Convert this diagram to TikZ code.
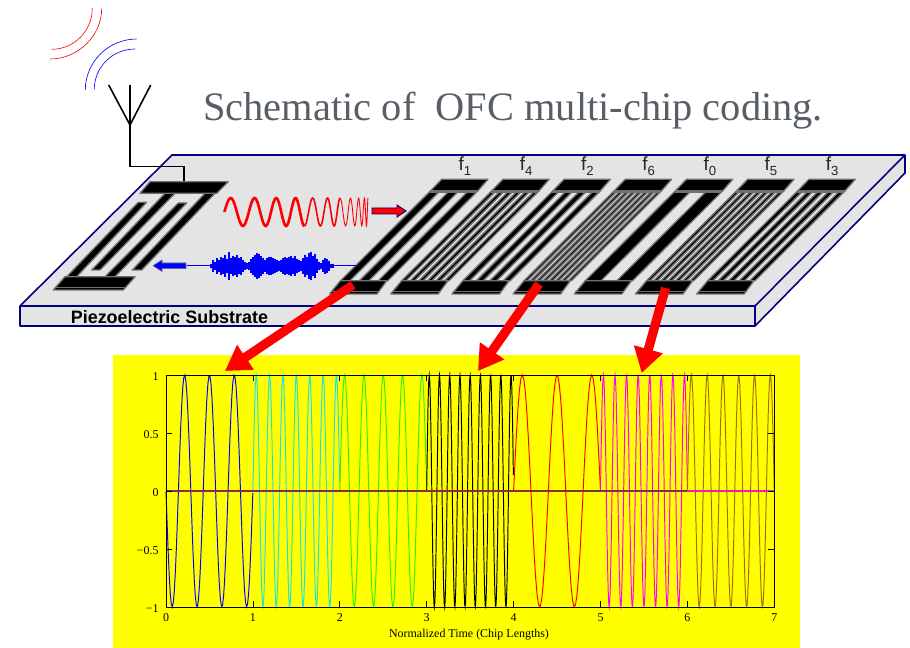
\documentclass[tikz,border=0pt]{standalone}
\usepackage{fontspec}
\setmainfont{Liberation Serif}
\setsansfont{Liberation Sans}
\usetikzlibrary{arrows.meta}
\definecolor{plate}{RGB}{228,228,228}
\definecolor{navyedge}{RGB}{0,0,128}
\definecolor{idtedge}{RGB}{112,112,112}
\definecolor{titlegrey}{RGB}{88,94,102}
\definecolor{plotyellow}{RGB}{255,255,0}
\definecolor{chipocre}{RGB}{165,110,0}
\definecolor{chipgreen}{RGB}{50,240,0}
\definecolor{chipcyan}{RGB}{30,225,225}
\definecolor{chipmagenta}{RGB}{255,0,255}
\definecolor{zeroline}{RGB}{135,45,70}
\tikzset{>=stealth,
  platelines/.style={fill=plate,draw=navyedge,line width=0.9pt,line join=round},
  metal/.style={fill=black,draw=idtedge,line width=0.75pt,line join=round},
  bigarrow/.style={line width=5.2pt,-{Triangle[length=14pt,width=16pt]}},
  ticklabel/.style={font=\fontsize{6.8}{7.5}\selectfont,inner sep=0pt},
  flabel/.style={font=\sffamily\fontsize{10.8}{11}\selectfont,inner sep=0pt,text=black!85}
}
\begin{document}
\begin{tikzpicture}[x=0.02cm,y=-0.02cm]
\useasboundingbox (0,0) rectangle (910,648);

\node[anchor=base west,inner sep=0pt,text=titlegrey,font=\fontsize{23}{24}\selectfont] (title) at (203,121) {Schematic of\ \ OFC multi-chip coding.};

% substrate
\filldraw[platelines] (172,155)--(905,155)--(905,173)--(755,326)--(20,326)--(20,306)--cycle;
\draw[navyedge,line width=0.9pt,line join=round] (20,306)--(755,306)--(905,155);
\draw[navyedge,line width=0.9pt] (755,306)--(755,326);
\node[anchor=west,inner sep=0pt,font=\sffamily\bfseries\fontsize{10.2}{11}\selectfont] (substrate) at (70.5,317) {Piezoelectric Substrate};

% antenna
\draw[line width=0.9pt,line join=miter] (108.7,85)--(130,125)--(150.7,85);
\draw[line width=0.9pt,line join=miter] (130,85)--(130,166.7)--(184,166.7)--(184,182);
\draw[red,line width=0.35pt] (101.7,8.3) .. controls (101.7,36) and (78,59) .. (50,59);
\draw[red,line width=0.35pt] (92.3,8.3) .. controls (92.3,30.8) and (74.2,49.3) .. (51.7,49.3);
\draw[blue,line width=0.35pt] (136.7,39) .. controls (108.4,39) and (85.3,62) .. (85.3,90);
\draw[blue,line width=0.35pt] (135,49) .. controls (112.6,49) and (94.3,67) .. (94.3,89.3);

% left idt
\filldraw[metal] (138.3,202.3)--(146.6,202.3)--(76.7,276.7)--(66.7,276.7)--cycle;
\filldraw[metal] (178.3,203)--(186.7,203)--(115,276.7)--(105,276.7)--cycle;
\filldraw[metal] (165,193.3)--(175,193.3)--(100,270)--(91.7,270)--cycle;
\filldraw[metal] (205,193.3)--(215,193.3)--(141.7,270)--(132.3,270)--cycle;
\filldraw[metal] (150,181.7)--(228.3,181.7)--(216.7,193.3)--(140,193.3)--cycle;
\filldraw[metal] (65,276.7)--(135,276.7)--(123.3,290)--(53.3,290)--cycle;
\draw[idtedge,line width=0.6pt] (55,287.5)--(125.5,287.5);

% output idts
\foreach \i/\k in {0/3,1/6,2/4,3/8,4/2,5/7,6/5}{
  \pgfmathsetmacro\xs{61.2*\i}
  \pgfmathsetmacro\wf{47.3/(2*\k-1)}
  \begin{scope}[shift={(\xs,0)}]
    \foreach \j in {1,...,\k}{
      \pgfmathsetmacro\xa{2*(\j-1)*\wf}
      \filldraw[metal] ({430.7+\xa},190.7)--({430.7+\xa+\wf},190.7)--({340.5+\xa+\wf},280.7)--({340.5+\xa},280.7)--cycle;
    }
    \fill[idtedge] (430.7,190.7)--(478,190.7)--(476,193)--(428.7,193)--cycle;
    \filldraw[metal] (441.7,179.3)--(488,179.3)--(478,190.7)--(430.7,190.7)--cycle;
    \filldraw[metal] (340.5,280.7)--(386.8,280.7)--(377,294)--(329.5,294)--cycle;
    \draw[idtedge,line width=0.6pt] (330.5,291.5)--(379,291.5);
  \end{scope}
}
\foreach \i/\f in {0/1,1/4,2/2,3/6,4/0,5/5,6/3}{
  \node[flabel] (f\f) at ({465+61.2*\i},166) {f\raisebox{-3pt}{\fontsize{7.5}{8}\selectfont\f}};
}

% surface waves
\foreach \ua/\ub/\lw in {-0.25/3.5/1.5pt,3.5/6/0.9pt,6/10/0.5pt}{
  \draw[red,line width=\lw] plot[domain=\ua:\ub,samples=80,variable=\u,smooth] ({230.7+25*\u-1.127*\u*\u},{212-14*cos(360*\u)});
}
\draw[blue,line width=0.8pt] (187,265.7)--(356,265.7);
\foreach \x/\h in {211/2,213/6,215/4,217/8,219/6,221/9,223/8,225/11,227/7,229/14,231/8,233/10,235/9,237/11,239/8,241/9,243/6,245/4,247/3,249/4,251/7,253/9,255/11,257/13,259/12,261/10,263/8,265/6,267/8,269/9,271/9,273/8,275/7,277/6,279/5,281/6,283/8,285/9,287/8,289/9,291/10,293/8,295/10,297/7,299/6,301/5,303/8,305/11,307/9,309/13,311/14,313/10,315/12,317/7,319/4,321/3,323/6,325/8,327/7,329/5,331/2,333/2}{
  \draw[blue,line width=1.25pt] (\x,265.7-\h)--(\x,265.7+\h);
}
\filldraw[fill=red,draw=navyedge,line width=0.5pt] (372,208)--(397,208)--(397,205)--(406,211)--(397,217)--(397,214)--(372,214)--cycle;
\filldraw[fill=blue,draw=navyedge!60,line width=0.3pt] (186,263)--(162,263)--(162,260)--(153,265.7)--(162,271.5)--(162,268.5)--(186,268.5)--cycle;

% plot
\fill[plotyellow] (113,355) rectangle (800,648);
\foreach \c/\s/\f/\col in {0/-1/3.5/blue,1/1/6.5/chipcyan,2/1/4.5/chipgreen,3/1/8.5/black,4/1/2.5/red,5/1/7.5/chipmagenta,6/1/5.5/chipocre}{
  \pgfmathtruncatemacro\n{24*\f}
  \draw[\col,line width=0.55pt] plot[domain=0:1,samples=\n,variable=\t] ({166+86.9*(\c+\t)},{491-116*\s*sin(360*\f*\t)});
}
\draw[zeroline,line width=1pt] (166,491)--(687,491);
\draw[chipmagenta!75!chipocre,line width=0.7pt] (687,491)--(774,491);
\draw[line width=0.55pt] (166,375) rectangle (774,607);
\foreach \c in {0,...,7}{
  \draw[line width=0.4pt] ({166+86.9*\c},375)--({166+86.9*\c},381);
  \draw[line width=0.4pt] ({166+86.9*\c},607)--({166+86.9*\c},601);
  \node[ticklabel] (xt\c) at ({166+86.9*\c},618) {\c};
}
\foreach \v/\lab in {1/1,0.5/0.5,0/0,-0.5/−0.5,-1/−1}{
  \draw[line width=0.4pt] (166,{491-116*\v})--(172,{491-116*\v});
  \draw[line width=0.4pt] (774,{491-116*\v})--(768,{491-116*\v});
  \node[ticklabel,anchor=east] at (159,{492.5-116*\v}) {\lab};
}
\node[ticklabel] (xlabel) at (469,635) {Normalized Time (Chip Lengths)};

% arrows to the chips
\coordinate (idtA) at (353,285);
\coordinate (idtB) at (539,284);
\coordinate (idtC) at (665.5,288);
\coordinate (chipA) at (225,371);
\coordinate (chipB) at (478,371);
\coordinate (chipC) at (641.7,373);
\foreach \a/\b in {idtA/chipA,idtB/chipB,idtC/chipC}{
  \draw[bigarrow,black,opacity=0.18,shift={(3,3)}] (\a)--(\b);
  \draw[bigarrow,red] (\a)--(\b);
}
\end{tikzpicture}
\end{document}
